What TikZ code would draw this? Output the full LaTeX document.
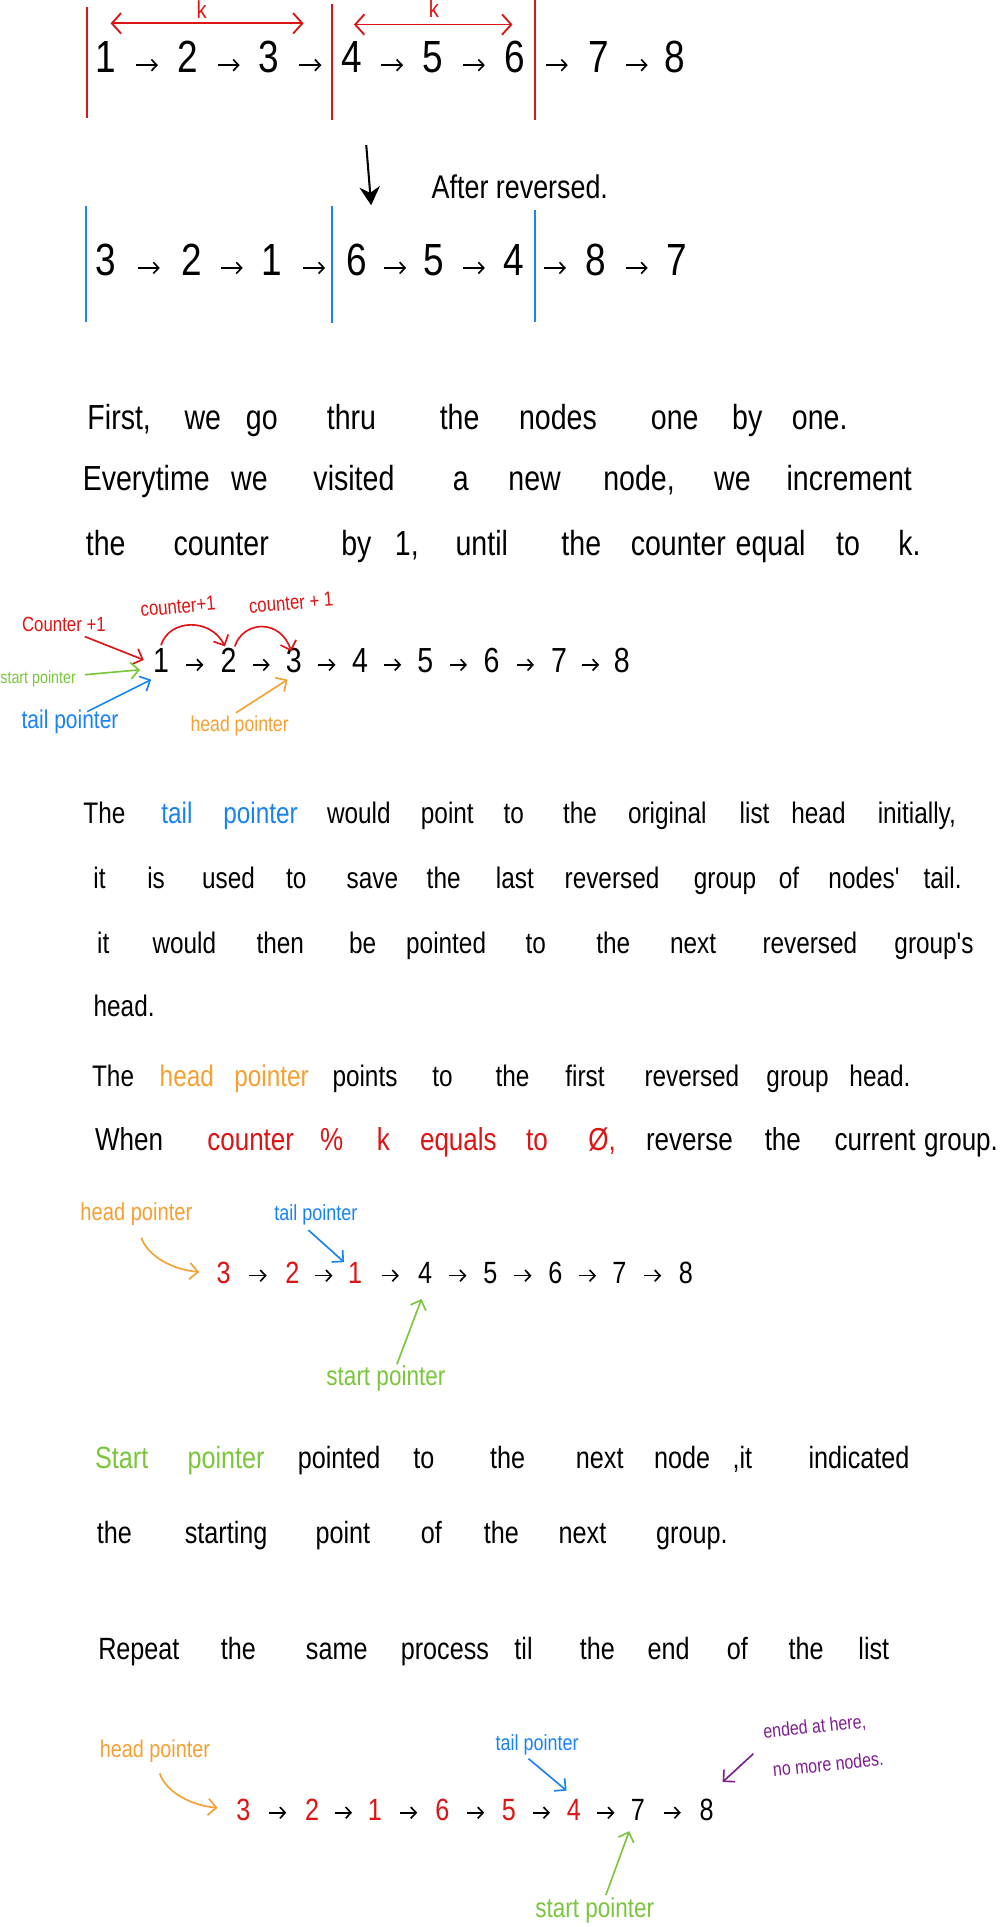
\documentclass[tikz,border=0pt]{standalone}
\usepackage{fontspec}
\newfontfamily\hand{Liberation Sans}[FakeStretch=0.82]
\usetikzlibrary{arrows.meta,calc}
\newcommand\hfs[1]{\hand\fontsize{#1}{#1}\selectfont}
\definecolor{hred}{RGB}{220,20,20}
\definecolor{hblue}{RGB}{25,130,245}
\definecolor{hgreen}{RGB}{122,198,60}
\definecolor{horange}{RGB}{245,160,50}
\definecolor{hpurple}{RGB}{125,30,145}
\tikzset{
  word/.style={inner sep=0pt, text height=0.7em, text depth=0.2em},
  dig/.style={inner sep=0pt, text height=0.72em, text depth=0pt},
  lbl/.style={inner sep=0pt, text height=0.7em, text depth=0.2em},
  sepline/.style={line width=0.9pt},
  lnk/.style={line width=0.8pt, -{Straight Barb[length=2.6pt,width=5.5pt]}},
  ptr/.style={line width=0.8pt, -{Straight Barb[length=4pt,width=8pt]}},
  kar/.style={line width=0.9pt, hred, {Straight Barb[length=4.5pt,width=10pt]}-{Straight Barb[length=4.5pt,width=10pt]}}
}
% word line: name, y, size, list x/text/colour
\newcommand\wline[4]{%
  \foreach \x/\t/\c [count=\i] in {#4}
    \node[word,font={\hfs{#3}},text=\c] (#1\i) at (\x,#2) {\t};}
% digit row: name, y, size, list, half arrow length
\newcommand\drow[5]{%
  \foreach \x/\t/\c [count=\i] in {#4}{
    \node[dig,font={\hfs{#3}},text=\c] (#1\i) at (\x,#2) {\t};
    \ifnum\i>1
      \pgfmathtruncatemacro\j{\i-1}
      \draw[lnk] ($(#1\j)!0.5!(#1\i)+(-#5,0)$) -- ($(#1\j)!0.5!(#1\i)+(#5,0)$);
    \fi}}
\begin{document}
\begin{tikzpicture}[x=0.6pt,y=-0.6pt]
\fill[white] (0,0) rectangle (814,1568);
\useasboundingbox (0,0) rectangle (814,1568);

% ---------- section 1 ----------
\draw[sepline,hred] (71,6) -- (71,96);
\draw[sepline,hred] (270,3) -- (270,98);
\draw[sepline,hred] (435,0) -- (435,98);
\node[lbl,font={\hfs{12}},text=hred] (k1) at (164,11) {k};
\node[lbl,font={\hfs{12}},text=hred] (k2) at (353,10) {k};
\coordinate (k1l) at (90,19); \coordinate (k1r) at (247,19);
\coordinate (k2l) at (288,20); \coordinate (k2r) at (417,20);
\draw[kar] (k1l) -- (k1r);
\draw[kar] (k2l) -- (k2r);
\drow{ta}{53}{22}{86/1/black,153/2/black,219/3/black,286/4/black,352/5/black,419/6/black,487/7/black,549/8/black}{9}

\coordinate (dn1) at (298,118); \coordinate (dn2) at (302,167);
\draw[line width=1pt,-{Stealth[length=9pt,width=10pt]}] (dn1) -- (dn2);
\node[lbl,font={\hfs{16}}] (after) at (423,157) {After reversed.};

\draw[sepline,hblue] (70,168) -- (70,262);
\draw[sepline,hblue] (270,168) -- (270,263);
\draw[sepline,hblue] (435,171) -- (435,262);
\drow{tb}{218}{22}{86/3/black,156/2/black,221/1/black,290/6/black,353/5/black,418/4/black,485/8/black,551/7/black}{9}

% ---------- paragraph 1 ----------
\wline{pa}{345}{17}{97/{First,}/black,165/we/black,213/go/black,286/thru/black,374/the/black,454/nodes/black,549/one/black,608/by/black,667/{one.}/black}
\wline{pb}{395}{17}{119/Everytime/black,203/we/black,288/visited/black,375/a/black,435/new/black,520/{node,}/black,596/we/black,691/increment/black}
\wline{pc}{448}{17}{86/the/black,180/counter/black,290/by/black,331/{1,}/black,392/until/black,473/the/black,552/counter/black,627/equal/black,690/to/black,740/{k.}/black}

% ---------- diagram 2 ----------
\drow{db}{541}{17}{131/1/black,186/2/black,239/3/black,293/4/black,346/5/black,400/6/black,455/7/black,506/8/black}{7}
\node[lbl,font={\hfs{10}},text=hred] (c1) at (52,510) {Counter +1};
\node[lbl,font={\hfs{10}},text=hred,rotate=5] (c2) at (145,495) {counter+1};
\node[lbl,font={\hfs{10}},text=hred,rotate=5] (c3) at (237,492) {counter + 1};
\coordinate (c1s) at (69,518); \coordinate (c1t) at (117,537);
\draw[ptr,hred] (c1s) -- (c1t);
\coordinate (a1s) at (131,525); \coordinate (a1t) at (183,526);
\coordinate (a2s) at (191,526); \coordinate (a2t) at (237,530);
\draw[ptr,hred] (a1s) .. controls (138,503) and (172,503) .. (a1t);
\draw[ptr,hred] (a2s) .. controls (198,505) and (228,503) .. (a2t);
\node[lbl,font={\hfs{8.5}},text=hgreen] (sp2) at (31,552) {start pointer};
\coordinate (g2s) at (69,549); \coordinate (g2t) at (114,545);
\draw[ptr,hgreen] (g2s) -- (g2t);
\node[lbl,font={\hfs{12.5}},text=hblue] (tp2) at (57,589) {tail pointer};
\coordinate (b2s) at (71,579); \coordinate (b2t) at (123,553);
\draw[ptr,hblue] (b2s) -- (b2t);
\node[lbl,font={\hfs{10.5}},text=horange] (hp2) at (195,591) {head pointer};
\coordinate (o2s) at (192,580); \coordinate (o2t) at (234,553);
\draw[ptr,horange] (o2s) -- (o2t);

% ---------- paragraph 2 ----------
\wline{qa}{666}{14.5}{85/The/black,144/tail/hblue,212/pointer/hblue,292/would/black,364/point/black,418/to/black,472/the/black,543/original/black,614/list/black,666/head/black,746/{initially,}/black}
\wline{qb}{719}{14.5}{81/it/black,127/is/black,186/used/black,241/to/black,303/save/black,361/the/black,419/last/black,498/reversed/black,590/group/black,642/of/black,703/nodes'/black,767/{tail.}/black}
\wline{qc}{772}{14.5}{84/it/black,150/would/black,228/then/black,295/be/black,363/pointed/black,436/to/black,499/the/black,564/next/black,659/reversed/black,760/group's/black}
\wline{qd}{823}{14.5}{101/{head.}/black}
\wline{qe}{880}{14.5}{92/The/black,152/head/horange,221/pointer/horange,297/points/black,360/to/black,417/the/black,476/first/black,563/reversed/black,649/group/black,716/{head.}/black}
\wline{qf}{932}{15.5}{105/When/black,204/counter/hred,270/\%/hred,312/k/hred,373/equals/hred,437/to/hred,490/{Ø,}/hred,561/reverse/black,637/the/black,712/current/black,782/{group.}/black}

% ---------- diagram 3 ----------
\drow{dc}{1038}{15}{182/3/hred,238/2/hred,289/1/hred,346/4/black,399/5/black,452/6/black,504/7/black,558/8/black}{7}
\node[lbl,font={\hfs{12}},text=horange] (hp3) at (111,989) {head pointer};
\coordinate (o3s) at (115,1007); \coordinate (o3t) at (162,1035);
\draw[ptr,horange] (o3s) .. controls (120,1022) and (140,1033) .. (o3t);
\node[lbl,font={\hfs{10.7}},text=hblue] (tp3) at (257,989) {tail pointer};
\coordinate (b3s) at (251,1001); \coordinate (b3t) at (280,1027);
\draw[ptr,hblue] (b3s) -- (b3t);
\node[lbl,font={\hfs{13.4}},text=hgreen] (sp3) at (314,1123) {start pointer};
\coordinate (g3s) at (323,1110); \coordinate (g3t) at (343,1057);
\draw[ptr,hgreen] (g3s) -- (g3t);

% ---------- paragraph 3 ----------
\wline{ra}{1191}{15}{99/Start/hgreen,184/pointer/hgreen,276/pointed/black,345/to/black,413/the/black,488/next/black,555/node/black,604/{,it}/black,699/indicated/black}
\wline{rb}{1252}{15}{93/the/black,184/starting/black,279/point/black,351/of/black,408/the/black,474/next/black,563/{group.}/black}
\wline{rc}{1346}{15}{113/Repeat/black,194/the/black,274/same/black,362/process/black,426/til/black,486/the/black,544/end/black,600/of/black,656/the/black,711/list/black}

% ---------- diagram 4 ----------
\drow{dd}{1475}{15}{198/3/hred,254/2/hred,305/1/hred,360/6/hred,414/5/hred,467/4/hred,519/7/black,575/8/black}{7}
\node[lbl,font={\hfs{11.8}},text=horange] (hp4) at (126,1426) {head pointer};
\coordinate (o4s) at (130,1443); \coordinate (o4t) at (177,1471);
\draw[ptr,horange] (o4s) .. controls (135,1458) and (155,1469) .. (o4t);
\node[lbl,font={\hfs{10.7}},text=hblue] (tp4) at (437,1420) {tail pointer};
\coordinate (b4s) at (430,1431); \coordinate (b4t) at (461,1457);
\draw[ptr,hblue] (b4s) -- (b4t);
\node[lbl,font={\hfs{13.4}},text=hgreen] (sp4) at (484,1556) {start pointer};
\coordinate (g4s) at (493,1542); \coordinate (g4t) at (512,1490);
\draw[ptr,hgreen] (g4s) -- (g4t);
\node[lbl,font={\hfs{9.5}},text=hpurple,rotate=6] (end1) at (663,1406) {ended at here,};
\node[lbl,font={\hfs{9.5}},text=hpurple,rotate=6] (end2) at (674,1437) {no more nodes.};
\coordinate (p4s) at (613,1427); \coordinate (p4t) at (588,1450);
\draw[ptr,hpurple] (p4s) -- (p4t);
\end{tikzpicture}
\end{document}
